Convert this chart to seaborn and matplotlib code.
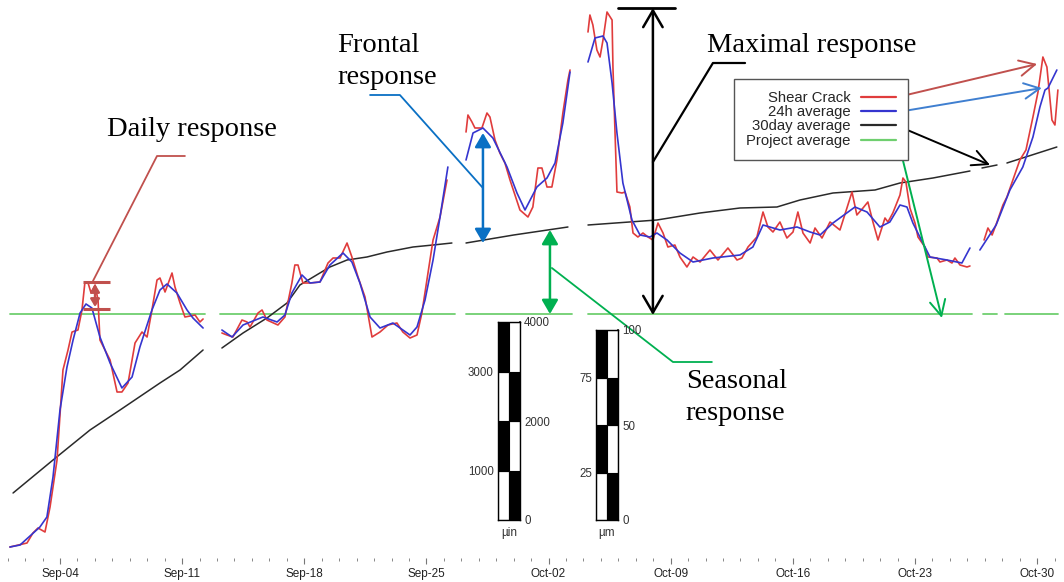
import numpy as np
import pandas as pd
import matplotlib
matplotlib.use("Agg")
import matplotlib.pyplot as plt
import matplotlib.dates as mdates
from matplotlib.lines import Line2D
import seaborn as sns

sns.set_theme(style="white")
plt.rcParams["font.family"] = ["Liberation Sans", "DejaVu Sans"]

START = pd.Timestamp("2013-09-01")
NA = np.nan

# Shear crack gauge reading (days since START, displacement); NaN = logging gap
crack_days = [0.13, 1.11, 1.45, 1.74, 2.14, 2.43, 2.83, 3.17, 3.46, 3.69, 4.03, 4.26, 4.43, 4.61,
              4.78, 5.01, 5.18, 5.29, 5.87, 6.27, 6.55, 6.90, 7.30, 7.70, 7.99, 8.27, 8.56, 8.73,
              9.02, 9.42, 9.59, 9.88, 10.16, 10.74, 11.02, 11.20, NA,
              12.28, 12.57, 12.91, 13.43, 13.72, 13.89, 14.35, 14.58, 14.86, 15.49, 15.89, 16.29,
              16.46, 16.64, 16.92, 17.33, 17.90, 18.36, 18.65, 19.05, 19.45, 19.73, 20.08, 20.48,
              20.88, 21.34, 21.80, 22.31, 22.65, 23.06, 23.46, 23.74, 24.09, 24.38, 24.78, 25.18, NA,
              26.27, 26.38, 26.61, 26.78, 27.18, 27.47, 27.64, 27.93, 28.21, 28.50, 28.79, 29.36,
              29.82, 30.10, 30.39, 30.62, 30.91, 31.19, 31.48, 31.82, 32.11, 32.23, NA,
              33.26, 33.37, 33.54, 33.77, 33.95, 34.12, 34.35, 34.64, 34.69, 34.81, 34.92, 35.21,
              35.38, 35.66, 35.84, 36.12, 36.41, 36.70, 36.98, 37.27, 37.56, 37.84, 38.24, 38.53,
              38.93, 39.28, 39.68, 40.25, 40.71, 41.28, 41.80, 42.08, 42.43, 42.94, 43.29, 43.57,
              43.86, 44.26, 44.66, 45.01, 45.29, 45.58, 45.99, 46.27, 46.67, 47.13, 47.70, 48.10,
              48.39, 48.67, 49.02, 49.30, 49.59, 49.88, 50.28, 50.45, 50.73, 51.14, 51.31, 51.48,
              51.71, 52.00, 52.17, 52.57, 52.74, 53.26, 53.43, 53.83, 54.12, 54.29, 54.58, 54.98,
              55.15, NA,
              55.96, 56.18, 56.42, 56.70, 57.04, 57.27, 57.61, 58.01, 58.36, 58.76, 59.05, 59.33,
              59.56, 59.85, 60.02, 60.19]
crack_um = [8, 12, 22, 27, 23, 48, 95, 185, 205, 223, 225, 245, 273, 272,
            262, 270, 255, 215, 195, 163, 163, 172, 212, 223, 218, 245, 275, 277,
            263, 282, 268, 252, 238, 240, 233, 236, NA,
            222, 220, 218, 235, 233, 228, 242, 245, 235, 230, 238, 272,
            290, 290, 272, 272, 273, 292, 297, 297, 312, 298, 278, 258,
            218, 223, 230, 232, 223, 217, 220, 242, 282, 315, 338, 375, NA,
            423, 440, 433, 427, 427, 442, 438, 415, 402, 392, 375, 345,
            338, 348, 387, 387, 368, 368, 395, 442, 475, 485, NA,
            523, 540, 530, 505, 498, 515, 543, 535, 488, 422, 363, 362,
            363, 348, 322, 318, 322, 318, 315, 332, 322, 308, 310, 298,
            288, 298, 293, 305, 295, 307, 295, 297, 308, 318, 343, 328,
            323, 333, 317, 323, 343, 322, 312, 327, 317, 333, 325, 347,
            363, 340, 347, 353, 333, 315, 337, 333, 342, 360, 377, 373,
            347, 332, 318, 308, 298, 297, 293, 295, 292, 297, 290, 288,
            289, NA,
            315, 327, 320, 333, 350, 358, 375, 395, 405, 438, 463, 498,
            488, 435, 430, 465]

# 24 hour running average
avg24_days = [0.13, 0.71, 1.85, 2.25, 2.60, 3.00, 3.40, 3.75, 4.15, 4.49, 4.83, 5.29, 5.87, 6.55,
              7.13, 7.58, 8.27, 8.73, 9.13, 9.70, 10.28, 10.62, 11.20, NA,
              12.28, 12.86, 13.49, 14.63, 15.44, 15.89, 16.29, 16.87, 17.33, 17.90, 18.47, 19.22,
              19.73, 20.19, 20.77, 21.34, 22.08, 23.06, 23.46, 23.92, 24.38, 24.78, 25.23, NA,
              26.27, 26.67, 27.24, 27.81, 28.62, 29.19, 29.65, 30.33, 30.91, 31.37, 31.82, 32.11,
              32.23, NA,
              33.26, 33.66, 34.12, 34.35, 34.64, 34.92, 35.26, 35.78, 36.24, 36.81, 37.21, 37.79,
              38.53, 39.28, 40.42, 41.97, 42.71, 43.29, 44.26, 45.24, 45.99, 46.56, 47.30, 48.56,
              49.25, 49.99, 50.56, 51.14, 51.54, 51.88, 52.28, 52.86, 53.83, 54.69, 55.15, NA,
              55.72, 56.65, 57.44, 58.18, 58.76, 59.16, 59.45, 59.62, 60.13]
avg24_um = [8, 10, 28, 38, 78, 145, 188, 215, 242, 251, 247, 218, 192, 167,
            178, 208, 245, 265, 271, 262, 245, 237, 227, NA,
            225, 218, 230, 238, 233, 240, 262, 280, 272, 273, 290, 302,
            293, 272, 238, 227, 232, 220, 228, 255, 295, 338, 388, NA,
            395, 422, 427, 417, 388, 362, 345, 368, 377, 392, 432, 468,
            483, NA,
            493, 517, 519, 512, 472, 422, 372, 335, 320, 318, 322, 315,
            302, 293, 297, 300, 308, 330, 325, 328, 323, 320, 332, 348,
            343, 328, 333, 350, 348, 332, 318, 298, 295, 292, 307, NA,
            305, 330, 365, 388, 418, 448, 465, 467, 485]

# 30 day running average
avg30_days = [0.31, 2.60, 4.72, 6.44, 8.73, 9.88, 11.20, NA,
              12.28, 13.49, 14.86, 16.01, 16.75, 18.47, 19.45, 20.59, 21.74, 23.23, 24.38, 25.46, NA,
              26.27, 29.00, 32.11, NA,
              33.26, 37.21, 39.68, 41.97, 44.09, 45.41, 47.30, 49.71, 51.14, 53.03, 55.15, NA,
              55.84, 56.70, NA,
              57.27, 60.13]
avg30_um = [62, 95, 125, 145, 172, 185, 205, NA,
            207, 222, 237, 252, 270, 288, 295, 298, 303, 308, 310, 312, NA,
            312, 320, 328, NA,
            330, 335, 342, 347, 348, 355, 362, 365, 372, 377, 384, NA,
            387, 390, NA,
            392, 408]

# Whole-project average level, drawn over the logged periods
project_days = [0.13, 11.31, NA, 12.17, 25.63, NA, 26.27, 32.34, NA, 33.26, 55.26, NA,
                55.90, 56.70, NA, 57.15, 60.19]
project_level = 241

legend_labels = ["Shear Crack", "24h average", "30day average", "Project average"]
week_ticks = pd.date_range("2013-09-04", "2013-10-30", freq="7D")

scale_in_edges = [0, 1000, 2000, 3000, 4000]
scale_um_edges = [0, 25, 50, 75, 100]

C_RED, C_BLUE, C_BLACK, C_GREEN = "#e03c3c", "#3535cf", "#2a2a2a", "#6fcf6f"


def series_frame(days, values):
    d = np.asarray(days, dtype=float)
    v = np.asarray(values, dtype=float)
    seg = np.cumsum(np.isnan(v))
    ok = ~np.isnan(v)
    return pd.DataFrame({"time": START + pd.to_timedelta(d[ok], unit="D"),
                         "value": v[ok], "segment": seg[ok]})


def X(day):
    return mdates.date2num(START + pd.Timedelta(days=day))


fig = plt.figure(figsize=(10.64, 5.82), dpi=100)
ax = fig.add_axes([0, 24 / 582, 1, 558 / 582])

proj_vals = np.where(np.isnan(project_days), np.nan, project_level)
for days, vals, color, lw in [(project_days, proj_vals, C_GREEN, 1.3),
                              (avg30_days, avg30_um, C_BLACK, 1.1),
                              (crack_days, crack_um, C_RED, 1.2),
                              (avg24_days, avg24_um, C_BLUE, 1.2)]:
    sns.lineplot(data=series_frame(days, vals), x="time", y="value", units="segment",
                 estimator=None, sort=False, color=color, lw=lw, ax=ax, legend=False)

ax.set_xlim(X(-0.438), X(60.54))
ax.set_ylim(-3, 555)
ax.set_xlabel("")
ax.set_ylabel("")
ax.set_yticks([])
for sp in ax.spines.values():
    sp.set_visible(False)
ax.set_xticks(week_ticks)
ax.xaxis.set_major_formatter(mdates.DateFormatter("%b-%d"))
ax.xaxis.set_minor_locator(mdates.DayLocator())
ax.tick_params(axis="x", which="major", bottom=True, length=4, width=0.8, color="#777",
               labelsize=8.5, labelcolor="#222", pad=3)
ax.tick_params(axis="x", which="minor", bottom=True, length=2.5, width=0.7, color="#888")

# Legend with line samples on the right of the labels
handles = [Line2D([], [], color=c, lw=1.6) for c in (C_RED, C_BLUE, C_BLACK, C_GREEN)]
leg = ax.legend(handles, legend_labels, loc="upper left",
                bbox_to_anchor=(734 / 1064, 1 - 79 / 582), bbox_transform=fig.transFigure,
                borderaxespad=0, markerfirst=False, alignment="right", fontsize=10.7,
                frameon=True, fancybox=False, framealpha=1, edgecolor="#555",
                borderpad=0.8, labelspacing=0.02, handlelength=2.4, handletextpad=0.7)
leg.get_frame().set_linewidth(1.0)

serif = dict(family=["Liberation Serif", "DejaVu Serif"], fontsize=20.5, color="black")

# Daily response
c_daily = "#c0504d"
ax.plot([X(4.32), X(5.87)], [273, 273], color=c_daily, lw=2.2, solid_capstyle="butt")
ax.plot([X(4.32), X(5.87)], [246, 246], color=c_daily, lw=2.2, solid_capstyle="butt")
ax.annotate("", xy=(X(5.01), 271), xytext=(X(5.01), 248),
            arrowprops=dict(arrowstyle="<|-|>,head_length=0.5,head_width=0.3", color=c_daily,
                            lw=1.8, shrinkA=0, shrinkB=0, mutation_scale=9))
ax.plot([X(4.89), X(8.56), X(10.16)], [274, 399, 399], color=c_daily, lw=1.3)
ax.text(X(10.54), 425, "Daily response", ha="center", va="center", **serif)

# Frontal response
c_front = "#0a70c4"
ax.plot([X(20.77), X(22.48), X(27.24)], [460, 460, 367], color=c_front, lw=1.3)
ax.annotate("", xy=(X(27.24), 422), xytext=(X(27.24), 312),
            arrowprops=dict(arrowstyle="<|-|>,head_length=0.6,head_width=0.35", color=c_front,
                            lw=1.8, shrinkA=0, shrinkB=0, mutation_scale=14))
ax.text(X(18.88), 510, "Frontal", ha="left", va="center", **serif)
ax.text(X(18.88), 477, "response", ha="left", va="center", **serif)

# Maximal response
ax.plot([X(34.98), X(38.24)], [547, 547], color="black", lw=2)
ax.annotate("", xy=(X(36.98), 547), xytext=(X(36.98), 240),
            arrowprops=dict(arrowstyle="<->,head_length=0.6,head_width=0.35", color="black",
                            lw=1.8, shrinkA=0, shrinkB=0, mutation_scale=20))
ax.plot([X(42.26), X(40.42), X(36.98)], [492, 492, 393], color="black", lw=1.6)
ax.text(X(40.08), 510, "Maximal response", ha="left", va="center", **serif)

# Seasonal response
c_season = "#00b050"
ax.plot([X(40.36), X(38.13), X(31.19)], [193, 193, 287], color=c_season, lw=1.3)
ax.annotate("", xy=(X(31.08), 325), xytext=(X(31.08), 241),
            arrowprops=dict(arrowstyle="<|-|>,head_length=0.6,head_width=0.35", color=c_season,
                            lw=1.8, shrinkA=0, shrinkB=0, mutation_scale=14))
ax.text(X(38.87), 174, "Seasonal", ha="left", va="center", **serif)
ax.text(X(38.87), 142, "response", ha="left", va="center", **serif)

# Leaders from the legend entries to their curves
for (x0, y0), (x1, y1), col in [((51.02, 458), (59.00, 491), "#c0504d"),
                                ((51.02, 443), (59.27, 467), "#3f7fd0"),
                                ((51.02, 429), (56.30, 390), "black"),
                                ((51.02, 415), (53.54, 237), c_season)]:
    ax.annotate("", xy=(X(x1), y1), xytext=(X(x0), y0),
                arrowprops=dict(arrowstyle="->,head_length=0.7,head_width=0.35", color=col,
                                lw=1.4, shrinkA=0, shrinkB=0, mutation_scale=16))


def scale_bar(rect, edges, left_ticks, right_ticks, unit):
    sax = fig.add_axes(rect)
    for i, (lo, hi) in enumerate(zip(edges[:-1], edges[1:])):
        dark_left = i % 2 == 1
        sax.bar([0, 1], [hi - lo, hi - lo], bottom=lo, width=1, align="edge",
                color=["black" if dark_left else "white", "white" if dark_left else "black"],
                edgecolor="black", linewidth=0.8)
    sax.set_xlim(0, 2)
    sax.set_ylim(edges[0], edges[-1])
    sax.set_xticks([])
    sax.set_yticks(left_ticks)
    sax.tick_params(axis="y", length=0, pad=3, labelsize=8.3, labelcolor="#333")
    sec = sax.secondary_yaxis("right")
    sec.set_yticks(right_ticks)
    sec.tick_params(length=0, pad=3, labelsize=8.3, labelcolor="#333")
    sax.set_xlabel(unit, fontsize=8.5, labelpad=5, color="#333")
    for sp in sax.spines.values():
        sp.set_visible(True)
        sp.set_color("black")
        sp.set_linewidth(1)


scale_bar([498 / 1064, 62 / 582, 22 / 1064, 198 / 582], scale_in_edges, [1000, 3000],
          [0, 2000, 4000], "µin")
scale_bar([596 / 1064, 62 / 582, 22 / 1064, 190 / 582], scale_um_edges, [25, 75],
          [0, 50, 100], "µm")

fig.savefig("out.png", dpi=100)
